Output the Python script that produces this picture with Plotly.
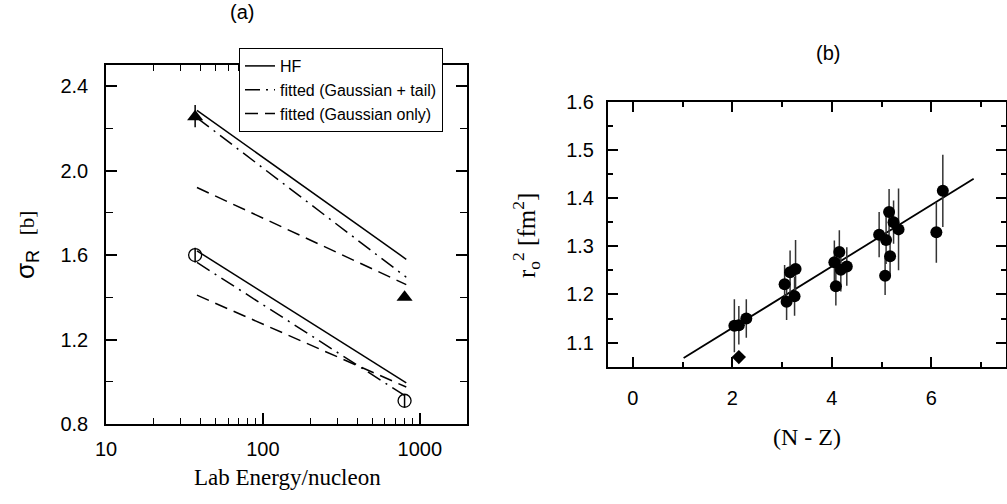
import plotly.graph_objects as go

# ---------------- Panel (a) data ----------------
energy_pts = [37, 800]
sigma_triangle = [2.255, 1.40]
sigma_triangle_err_up = [0.055, 0.0]
sigma_triangle_err_dn = [0.05, 0.0]
sigma_circle = [1.60, 0.91]
sigma_circle_err = [0.035, 0.03]

energy_line = [38, 820]
hf_upper = [2.285, 1.58]
gt_upper = [2.25, 1.495]
go_upper = [1.92, 1.46]
hf_lower = [1.62, 0.995]
gt_lower = [1.565, 0.93]
go_lower = [1.41, 0.975]

a_x_major = [10, 100, 1000]
a_y_major = [0.8, 1.2, 1.6, 2.0, 2.4]

# ---------------- Panel (b) data ----------------
nz = [2.04, 2.13, 2.28, 3.05, 3.09, 3.16, 3.27, 3.25,
      4.05, 4.08, 4.15, 4.18, 4.30,
      4.95, 5.09, 5.15, 5.24, 5.34, 5.17, 5.07,
      6.23, 6.10]
r0sq = [1.135, 1.136, 1.150, 1.221, 1.185, 1.246, 1.253, 1.196,
        1.267, 1.217, 1.288, 1.251, 1.258,
        1.324, 1.313, 1.371, 1.350, 1.335, 1.279, 1.239,
        1.415, 1.329]
r0sq_err = [0.055, 0.04, 0.04, 0.04, 0.038, 0.045, 0.06, 0.04,
            0.045, 0.04, 0.045, 0.045, 0.04,
            0.047, 0.05, 0.048, 0.045, 0.085, 0.04, 0.04,
            0.075, 0.063]
nz_diamond = [2.13]
r0sq_diamond = [1.070]
r0sq_diamond_err = [0.012]
fit_nz = [1.02, 6.85]
fit_r0sq = [1.068, 1.440]

b_x_major = [0, 2, 4, 6]
b_y_major = [1.1, 1.2, 1.3, 1.4, 1.5, 1.6]

# ---------------- layout geometry ----------------
FIG_W, FIG_H = 1007, 504
ML, MR, MT, MB = 0, 1, 0, 0
PW = FIG_W - ML - MR
PH = FIG_H - MT - MB


def fx(px):
    return (px - ML) / PW


def fy(py):
    return (FIG_H - MB - py) / PH


fig = go.Figure()

tick_font = dict(family="Liberation Sans, Arial", size=20, color="black")
serif = "Liberation Serif, Times New Roman"

lw = 1.5
dashdot = "15px,6px,2px,6px"
dashed = "13px,7px"

fig.add_trace(go.Scatter(x=energy_line, y=hf_upper, mode="lines", name="HF",
                         line=dict(color="black", width=lw), legendgroup="hf",
                         xaxis="x", yaxis="y"))
fig.add_trace(go.Scatter(x=energy_line, y=gt_upper, mode="lines",
                         name="fitted (Gaussian + tail)",
                         line=dict(color="black", width=lw, dash=dashdot),
                         legendgroup="gt", xaxis="x", yaxis="y"))
fig.add_trace(go.Scatter(x=energy_line, y=go_upper, mode="lines",
                         name="fitted (Gaussian only)",
                         line=dict(color="black", width=lw, dash=dashed),
                         legendgroup="go", xaxis="x", yaxis="y"))
fig.add_trace(go.Scatter(x=energy_line, y=hf_lower, mode="lines", name="HF",
                         line=dict(color="black", width=lw), legendgroup="hf",
                         showlegend=False, xaxis="x", yaxis="y"))
fig.add_trace(go.Scatter(x=energy_line, y=gt_lower, mode="lines",
                         name="fitted (Gaussian + tail)",
                         line=dict(color="black", width=lw, dash=dashdot),
                         legendgroup="gt", showlegend=False, xaxis="x", yaxis="y"))
fig.add_trace(go.Scatter(x=energy_line, y=go_lower, mode="lines",
                         name="fitted (Gaussian only)",
                         line=dict(color="black", width=lw, dash=dashed),
                         legendgroup="go", showlegend=False, xaxis="x", yaxis="y"))

fig.add_trace(go.Scatter(x=energy_pts, y=sigma_triangle, mode="markers",
                         marker=dict(symbol="triangle-up", size=14, color="black"),
                         error_y=dict(type="data", array=sigma_triangle_err_up,
                                      arrayminus=sigma_triangle_err_dn, width=0,
                                      thickness=1.5, color="black"),
                         showlegend=False, xaxis="x", yaxis="y"))
fig.add_trace(go.Scatter(x=energy_pts, y=sigma_circle, mode="markers",
                         marker=dict(symbol="circle-open", size=13, color="black",
                                     line=dict(width=1.3)),
                         error_y=dict(type="data", array=sigma_circle_err, width=0,
                                      thickness=1.5, color="black"),
                         showlegend=False, xaxis="x", yaxis="y"))

fig.add_trace(go.Scatter(x=fit_nz, y=fit_r0sq, mode="lines",
                         line=dict(color="black", width=1.8),
                         showlegend=False, xaxis="x2", yaxis="y2"))
fig.add_trace(go.Scatter(x=nz, y=r0sq, mode="markers",
                         marker=dict(symbol="circle", size=12, color="black"),
                         error_y=dict(type="data", array=r0sq_err, width=0,
                                      thickness=1.5, color="#333333"),
                         showlegend=False, xaxis="x2", yaxis="y2"))
fig.add_trace(go.Scatter(x=nz_diamond, y=r0sq_diamond, mode="markers",
                         marker=dict(symbol="diamond", size=11, color="black"),
                         error_y=dict(type="data", array=r0sq_diamond_err, width=0,
                                      thickness=1.5, color="#333333"),
                         showlegend=False, xaxis="x2", yaxis="y2"))

common = dict(showgrid=False, zeroline=False, showline=True, linecolor="black",
              mirror="allticks", ticks="inside", tickcolor="black",
              tickfont=tick_font, automargin=False)

fig.update_layout(
    template="simple_white",
    width=FIG_W, height=FIG_H,
    margin=dict(l=ML, r=MR, t=MT, b=MB, autoexpand=False),
    paper_bgcolor="white", plot_bgcolor="white",
    xaxis=dict(type="log", range=[1, 3.301], domain=[fx(106), fx(467)],
               anchor="y", tickvals=a_x_major, ticktext=[str(v) for v in a_x_major],
               ticklen=11, tickwidth=1.5, linewidth=1.5, ticklabelstandoff=6,
               minor=dict(ticks="inside", ticklen=6, tickwidth=1.2, tickcolor="black",
                          dtick="D1", showgrid=False),
               **common),
    yaxis=dict(range=[0.8, 2.5], domain=[fy(424), fy(65)], anchor="x",
               tickvals=a_y_major, tickformat=".1f", ticklabelstandoff=12,
               ticklen=11, tickwidth=1.5, linewidth=1.5,
               minor=dict(ticks="inside", ticklen=7, tickwidth=1.2, tickcolor="black",
                          dtick=0.2, tick0=0.8, showgrid=False),
               **common),
    xaxis2=dict(range=[-0.5, 7.5], domain=[fx(608), 1.0], anchor="y2",
                tickvals=b_x_major, ticklabelstandoff=12,
                ticklen=10, tickwidth=1.8, linewidth=2,
                minor=dict(ticks="inside", ticklen=5, tickwidth=1.5, tickcolor="black",
                           dtick=1, tick0=0, showgrid=False),
                **common),
    yaxis2=dict(range=[1.05, 1.6], domain=[fy(366.7), fy(101.7)], anchor="x2",
                tickvals=b_y_major, tickformat=".1f", ticklabelstandoff=8,
                ticklen=10, tickwidth=1.8, linewidth=2,
                minor=dict(ticks="inside", ticklen=5, tickwidth=1.5, tickcolor="black",
                           dtick=0.05, tick0=1.05, showgrid=False),
                **common),
    legend=dict(x=fx(239), y=fy(48), xanchor="left", yanchor="top",
                bgcolor="white", bordercolor="black", borderwidth=1,
                font=dict(family="Liberation Sans, Arial", size=16, color="black"),
                tracegroupgap=0),
    showlegend=True,
)

annotations = [
    dict(text="(a)", x=242, y=12, font=dict(family="Liberation Sans, Arial", size=20)),
    dict(text="(b)", x=828, y=53, font=dict(family="Liberation Sans, Arial", size=20)),
    dict(text="Lab Energy/nucleon", x=287, y=477, font=dict(family=serif, size=23)),
    dict(text="(N - Z)", x=807, y=437, font=dict(family=serif, size=24)),
    dict(text="σ<sub>R</sub>  <span style='font-family:Liberation Serif;font-size:21px'>[b]</span>",
         x=26, y=245, textangle=-90, font=dict(family="Liberation Sans, Arial", size=26)),
    dict(text="r<sub>o</sub><sup>2</sup> [fm<sup>2</sup>]",
         x=526, y=236, textangle=-90, font=dict(family=serif, size=25)),
]
for a in annotations:
    fig.add_annotation(xref="paper", yref="paper", x=fx(a["x"]),
                       y=fy(a["y"]), text=a["text"], showarrow=False,
                       xanchor="center", yanchor="middle",
                       textangle=a.get("textangle", 0),
                       font=dict(color="black", **a["font"]))

fig.write_html("out.html")
